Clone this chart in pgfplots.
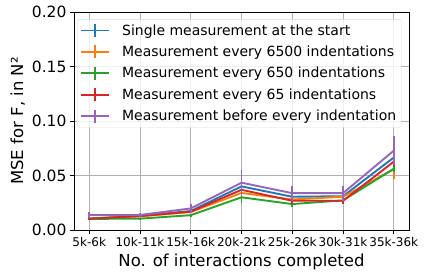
\documentclass[border=0pt]{standalone}
\usepackage{fontspec}
\setmainfont{DejaVu Sans}
\usepackage{pgfplots}
\pgfplotsset{compat=1.18}
\definecolor{tblue}{HTML}{1F77B4}
\definecolor{torange}{HTML}{FF7F0E}
\definecolor{tgreen}{HTML}{2CA02C}
\definecolor{tred}{HTML}{D62728}
\definecolor{tpurple}{HTML}{9467BD}
\pgfplotsset{
  ebar/.style={#1, line width=1.9pt, no marks,
    error bars/y dir=both, error bars/y explicit, error bars/error mark=none,
    error bars/error bar style={line width=1.9pt},
    legend image code/.code={
      \draw[#1, line width=1.9pt] (0pt,0pt) -- (28pt,0pt);
      \draw[#1, line width=1.9pt] (14pt,-6.5pt) -- (14pt,6.5pt);
      \path (38pt,0pt);
    }},
}
\begin{document}
\begin{tikzpicture}
\useasboundingbox (-74pt,-46pt) rectangle (351pt,230pt);
\begin{axis}[
  scale only axis,
  width=335pt, height=218pt,
  xmin=-0.3, xmax=6.3, ymin=0, ymax=0.2,
  xtick={0,1,2,3,4,5,6},
  xticklabels={5k-6k,10k-11k,15k-16k,20k-21k,25k-26k,30k-31k,35k-36k},
  ytick={0,0.05,0.1,0.15,0.2},
  yticklabel style={/pgf/number format/fixed, /pgf/number format/fixed zerofill, /pgf/number format/precision=2},
  /pgf/number format/assume math mode=true,
  x tick label style={font=\fontsize{12}{12}\selectfont},
  y tick label style={font=\fontsize{15.5}{15}\selectfont},
  label style={font=\fontsize{16.5}{16}\selectfont},
  xlabel={No. of interactions completed},
  ylabel={MSE for F, in N²},
  grid=major,
  grid style={color=black!31, line width=0.8pt},
  axis line style={line width=0.8pt},
  tick style={black, line width=0.8pt},
  tick align=outside,
  major tick length=4pt,
  xtick pos=bottom, ytick pos=left,
  legend style={at={(0.009,0.967)}, anchor=north west,
    font=\fontsize{14}{14}\selectfont, draw=black!15, rounded corners=2pt,
    fill=white, fill opacity=0.8, text opacity=1,
    row sep=5.3pt, inner sep=3pt},
  legend cell align=left,
]
\addplot[ebar=tblue] coordinates {
 (0,0.0105) +- (0,0.0008)
 (1,0.0130) +- (0,0.0010)
 (2,0.0174) +- (0,0.0015)
 (3,0.0400) +- (0,0.0040)
 (4,0.0305) +- (0,0.0025)
 (5,0.0310) +- (0,0.0025)
 (6,0.0665) +- (0,0.0040)
};
\addlegendentry{Single measurement at the start}
\addplot[ebar=torange] coordinates {
 (0,0.0105) +- (0,0.0005)
 (1,0.0125) +- (0,0.0010)
 (2,0.0165) +- (0,0.0010)
 (3,0.0340) +- (0,0.0030)
 (4,0.0280) +- (0,0.0020)
 (5,0.0305) +- (0,0.0020)
 (6,0.0557) +- (0,0.0090)
};
\addlegendentry{Measurement every 6500 indentations}
\addplot[ebar=tgreen] coordinates {
 (0,0.0102) +- (0,0.0005)
 (1,0.0104) +- (0,0.0010)
 (2,0.0136) +- (0,0.0015)
 (3,0.0300) +- (0,0.0050)
 (4,0.0238) +- (0,0.0030)
 (5,0.0272) +- (0,0.0020)
 (6,0.0562) +- (0,0.0030)
};
\addlegendentry{Measurement every 650 indentations}
\addplot[ebar=tred] coordinates {
 (0,0.0104) +- (0,0.0005)
 (1,0.0128) +- (0,0.0010)
 (2,0.0168) +- (0,0.0010)
 (3,0.0369) +- (0,0.0030)
 (4,0.0268) +- (0,0.0025)
 (5,0.0268) +- (0,0.0025)
 (6,0.0627) +- (0,0.0040)
};
\addlegendentry{Measurement every 65 indentations}
\addplot[ebar=tpurple] coordinates {
 (0,0.0138) +- (0,0.0025)
 (1,0.0138) +- (0,0.0015)
 (2,0.0198) +- (0,0.0040)
 (3,0.0434) +- (0,0.0120)
 (4,0.0338) +- (0,0.0070)
 (5,0.0338) +- (0,0.0070)
 (6,0.0728) +- (0,0.0130)
};
\addlegendentry{Measurement before every indentation}
\end{axis}
\end{tikzpicture}
\end{document}
